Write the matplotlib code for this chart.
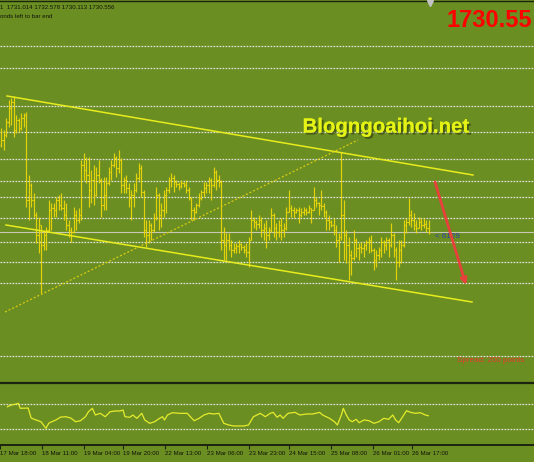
import matplotlib
matplotlib.use("Agg")
import matplotlib.pyplot as plt
import matplotlib.patheffects as pe

# ---------------- data ----------------
first_open = 1747.9
bar_high = [
    1751.3, 1750.9, 1753.3, 1756.9, 1757.3, 1757.7, 1753.9, 1753.3, 1754.3, 1754.3,
    1754.5, 1741.9, 1740.3, 1738.3, 1734.5, 1733.5, 1731.9, 1730.9, 1731.5, 1736.9,
    1736.3, 1736.3, 1737.5, 1737.9, 1738.3, 1736.9, 1736.3, 1732.9, 1731.5, 1735.5,
    1734.9, 1735.3, 1744.9, 1746.3, 1745.5, 1745.5, 1742.9, 1743.9, 1743.5, 1744.9,
    1741.3, 1741.5, 1741.5, 1743.5, 1744.9, 1746.3, 1745.7, 1746.9, 1745.3, 1741.5,
    1741.9, 1740.3, 1738.9, 1740.3, 1742.3, 1744.3, 1743.9, 1738.9, 1732.9, 1732.9,
    1732.3, 1734.3, 1739.5, 1738.3, 1736.3, 1738.9, 1739.5, 1741.5, 1742.3, 1741.9,
    1740.9, 1740.5, 1740.9, 1740.5, 1740.9, 1739.5, 1737.5, 1735.5, 1736.3, 1738.3,
    1738.9, 1740.5, 1740.5, 1741.5, 1741.3, 1743.5, 1742.9, 1741.9, 1740.9, 1731.5,
    1730.3, 1730.3, 1728.9, 1728.3, 1728.3, 1728.9, 1728.3, 1727.9, 1728.3, 1729.5,
    1734.9, 1733.5, 1732.9, 1733.9, 1733.5, 1732.3, 1732.9, 1731.5, 1735.3, 1734.3,
    1732.3, 1732.9, 1733.3, 1732.3, 1735.5, 1738.9, 1735.9, 1735.5, 1735.3, 1735.5,
    1735.3, 1735.5, 1735.3, 1735.9, 1735.3, 1739.5, 1737.5, 1736.5, 1738.9, 1736.3,
    1734.9, 1733.9, 1732.9, 1733.3, 1731.9, 1730.3, 1746.5, 1736.9, 1730.9, 1729.5,
    1726.9, 1730.9, 1729.3, 1728.3, 1728.5, 1728.3, 1728.9, 1729.5, 1729.9, 1727.3,
    1726.9, 1727.5, 1729.5, 1728.9, 1729.5, 1729.3, 1732.3, 1730.3, 1727.5, 1728.9,
    1728.9, 1732.9, 1733.3, 1737.3, 1734.9, 1734.3, 1732.9, 1733.5, 1733.3, 1733.3,
    1732.9, 1732.9]
bar_low = [
    1747.5, 1746.9, 1749.5, 1751.5, 1751.9, 1749.5, 1750.3, 1750.5, 1750.9, 1751.5,
    1735.5, 1732.9, 1735.5, 1733.5, 1728.3, 1726.3, 1718.3, 1726.9, 1726.9, 1730.5,
    1730.9, 1733.5, 1733.5, 1734.9, 1734.9, 1732.9, 1730.9, 1729.5, 1728.5, 1730.3,
    1730.9, 1732.3, 1732.9, 1740.9, 1740.3, 1735.5, 1736.3, 1735.9, 1737.7, 1740.3,
    1733.5, 1734.9, 1734.9, 1739.9, 1740.9, 1743.5, 1741.5, 1742.3, 1738.3, 1738.3,
    1738.3, 1735.5, 1732.9, 1735.5, 1738.5, 1740.9, 1737.5, 1729.5, 1727.5, 1728.3,
    1728.9, 1730.5, 1732.9, 1730.9, 1731.5, 1733.5, 1734.3, 1738.3, 1739.5, 1738.5,
    1739.5, 1738.9, 1739.3, 1739.5, 1738.3, 1736.9, 1732.9, 1732.9, 1734.3, 1735.5,
    1736.9, 1737.5, 1738.3, 1738.3, 1736.9, 1739.5, 1738.9, 1739.5, 1726.9, 1724.9,
    1724.9, 1726.9, 1725.5, 1726.3, 1726.3, 1726.3, 1726.9, 1726.3, 1725.5, 1723.5,
    1728.9, 1731.3, 1730.9, 1731.3, 1729.5, 1728.9, 1727.3, 1728.9, 1730.5, 1729.5,
    1728.9, 1729.5, 1728.9, 1729.5, 1730.9, 1734.5, 1733.5, 1733.3, 1734.3, 1732.3,
    1733.5, 1733.9, 1733.9, 1734.3, 1732.3, 1734.9, 1735.5, 1733.9, 1734.9, 1733.5,
    1730.9, 1730.9, 1731.5, 1729.9, 1727.5, 1724.5, 1728.9, 1724.9, 1724.3, 1720.9,
    1721.9, 1724.9, 1725.5, 1724.9, 1726.3, 1725.5, 1726.9, 1726.3, 1726.5, 1722.9,
    1723.5, 1724.9, 1725.5, 1726.3, 1726.9, 1725.5, 1727.5, 1725.5, 1720.9, 1723.5,
    1724.3, 1727.5, 1730.3, 1731.9, 1731.5, 1730.9, 1730.3, 1731.3, 1730.9, 1731.3,
    1730.5, 1730.1]
bar_close = [
    1748.9, 1749.9, 1752.5, 1755.3, 1756.5, 1750.9, 1752.9, 1751.3, 1753.3, 1753.9,
    1736.9, 1739.9, 1736.9, 1733.9, 1729.9, 1731.9, 1727.9, 1729.9, 1730.9, 1734.9,
    1735.3, 1734.9, 1736.9, 1735.9, 1735.3, 1733.9, 1731.9, 1730.9, 1730.5, 1733.9,
    1732.9, 1733.9, 1743.9, 1742.9, 1741.9, 1738.9, 1740.9, 1737.9, 1741.9, 1740.9,
    1735.9, 1737.9, 1740.3, 1742.5, 1743.9, 1745.3, 1743.3, 1744.9, 1739.9, 1740.9,
    1739.3, 1737.3, 1737.9, 1738.9, 1741.3, 1743.3, 1738.5, 1730.9, 1729.9, 1731.9,
    1730.9, 1733.3, 1737.9, 1733.9, 1734.9, 1737.9, 1738.9, 1740.9, 1741.3, 1740.5,
    1740.1, 1739.7, 1740.3, 1739.9, 1738.9, 1737.3, 1734.9, 1734.5, 1735.9, 1737.3,
    1738.5, 1739.3, 1739.9, 1740.9, 1739.9, 1742.5, 1740.9, 1740.5, 1728.9, 1727.9,
    1728.9, 1727.9, 1726.9, 1727.3, 1727.7, 1728.1, 1727.5, 1726.9, 1726.5, 1728.9,
    1732.9, 1732.5, 1732.1, 1732.9, 1730.9, 1731.3, 1729.9, 1730.9, 1733.9, 1731.3,
    1730.5, 1731.9, 1730.9, 1731.3, 1734.5, 1735.3, 1734.9, 1734.5, 1734.9, 1733.9,
    1734.5, 1734.9, 1734.5, 1735.3, 1734.9, 1736.9, 1736.3, 1735.9, 1735.7, 1734.5,
    1732.9, 1732.5, 1731.9, 1730.9, 1728.9, 1729.5, 1733.9, 1729.9, 1727.9, 1725.9,
    1725.3, 1728.9, 1727.3, 1727.5, 1727.3, 1727.9, 1728.5, 1728.9, 1726.9, 1724.9,
    1725.9, 1726.9, 1728.5, 1727.9, 1728.9, 1727.9, 1729.9, 1726.9, 1724.5, 1726.9,
    1727.9, 1731.9, 1732.5, 1733.9, 1732.9, 1731.9, 1731.3, 1732.5, 1731.9, 1732.1,
    1731.3, 1730.55]
bar_open = [first_open] + bar_close[:-1]
bar_idx = list(range(len(bar_close)))

bid_price = 1730.55
level_prices = [1767.76, 1763.24, 1755.76, 1750.44, 1745.1, 1740.64, 1737.56,
                1733.24, 1728.44, 1724.5, 1720.36, 1705.64]

upper_t, upper_p = [2.4, 188.8], [1757.7, 1741.9]
lower_t, lower_p = [2.0, 188.4], [1731.9, 1716.5]
dotted_t, dotted_p = [1.6, 142.8], [1714.5, 1748.9]
arrow_t, arrow_p = [173.6, 186.0], [1740.5, 1719.9]

rsi_t = [0, 1.6, 3.6, 4.4, 5.2, 8.4, 9.6, 11.6, 13.6, 15.6, 16.8, 19.6, 21.6, 23.6,
         25.6, 27.6, 29.6, 31.6, 32.8, 34.4, 35.6, 37.6, 39.6, 41.6, 43.6, 45.6,
         46.8, 47.6, 49.6, 50.8, 52.4, 54.4, 55.6, 57.6, 59.6, 61.6, 62.8, 63.6,
         64.8, 66.8, 69.6, 72.8, 75.6, 77.6, 79.6, 81.6, 83.6, 85.6, 87.6, 89.6,
         91.6, 95.6, 97.6, 99.6, 102.4, 104.4, 106.4, 107.6, 109.2, 110.4, 111.6,
         113.6, 116.4, 118.4, 121.2, 123.6, 126.4, 127.6, 130.4, 132.4, 133.6,
         135.2, 136.0, 137.2, 138.4, 139.6, 141.2, 142.4, 144.4, 146.4, 148.4,
         150.4, 152.4, 154.4, 156.0, 157.2, 158.4, 159.6, 161.6, 163.2, 165.2,
         167.2, 169.2, 170.4]
rsi_v = [66.1, 68.9, 70.5, 71.6, 63.5, 64.0, 47.8, 44.6, 41.8, 31.1, 39.7, 44.6, 49.4,
         49.9, 47.8, 41.8, 43.4, 49.9, 58.0, 63.5, 52.7, 55.4, 49.9, 58.0, 59.2, 59.2,
         60.8, 49.9, 49.0, 52.7, 47.3, 55.4, 44.6, 39.2, 41.8, 47.3, 49.9, 44.6,
         52.7, 56.4, 55.4, 55.4, 43.4, 47.3, 52.7, 55.4, 54.3, 55.4, 39.2, 36.5,
         34.9, 34.9, 36.5, 49.9, 55.4, 49.9, 55.4, 57.0, 49.0, 52.7, 47.3,
         55.4, 57.0, 52.7, 54.3, 54.3, 57.0, 52.7, 47.3, 41.8, 36.5,
         52.7, 63.5, 52.7, 44.6, 41.8, 45.7, 40.2, 44.6, 43.4, 39.2,
         41.8, 47.3, 45.7, 52.7, 44.6, 40.2, 47.3, 59.6, 57.0, 55.4,
         56.4, 52.7, 51.5]
rsi_levels = [70, 30]

tick_pos = [-3, 14, 31, 47, 64, 81, 98, 114, 131, 148, 164]
tick_labels = ["17 Mar 18:00", "18 Mar 11:00", "19 Mar 04:00", "19 Mar 20:00",
               "22 Mar 13:00", "23 Mar 06:00", "23 Mar 23:00", "24 Mar 15:00",
               "25 Mar 08:00", "26 Mar 01:00", "26 Mar 17:00"]

# ---------------- style ----------------
W, H = 534, 462
BG = "#6b8e23"
DARK = "#1c2410"
GRID = "#e2e2d8"
BAR = "#eed80a"
SMALL = "Liberation Sans"


def fy(px):
    return 1 - px / H


fig = plt.figure(figsize=(W / 100, H / 100), dpi=100, facecolor=BG)

ax = fig.add_axes([0, fy(382), 1, (382 - 1) / H], facecolor=BG)
ind = fig.add_axes([0, fy(445), 1, (445 - 383) / H], facecolor=BG)

xmin = -0.4
xmax = xmin + W / 2.5
for a in (ax, ind):
    a.set_xlim(xmin, xmax)
    for s in ("left", "right"):
        a.spines[s].set_visible(False)

ax.set_ylim(1700.5, 1776.7)
ax.spines["bottom"].set_visible(False)
ax.spines["top"].set_color(DARK)
ax.spines["top"].set_linewidth(1.0)
ax.set_xticks([])
ax.set_yticks([])

# level lines
for lv in level_prices:
    ax.axhline(lv, color=GRID, lw=0.9, ls=(0, (1.4, 1.0)), zorder=1)
ax.axhline(bid_price, color="#c8c8b4", lw=0.8, zorder=1)

# bars
ax.vlines(bar_idx, bar_low, bar_high, colors=BAR, lw=0.85, alpha=0.92, zorder=3)
ax.hlines(bar_open, [i - 0.45 for i in bar_idx], bar_idx, colors=BAR, lw=0.85, alpha=0.92, zorder=3)
ax.hlines(bar_close, bar_idx, [i + 0.45 for i in bar_idx], colors=BAR, lw=0.85, alpha=0.92, zorder=3)

# trendlines
ax.plot(upper_t, upper_p, color="#e8ec1c", lw=1.1, zorder=4)
ax.plot(lower_t, lower_p, color="#e8ec1c", lw=1.1, zorder=4)
ax.plot(dotted_t, dotted_p, color="#d8cc10", lw=0.9, ls=(0, (1.6, 1.6)), zorder=4)

# red arrow
ax.annotate("", xy=(arrow_t[1], arrow_p[1]), xytext=(arrow_t[0], arrow_p[0]),
            arrowprops=dict(arrowstyle="-|>", color="#e8403a", lw=2.0,
                            mutation_scale=9, shrinkA=0, shrinkB=0), zorder=6)

ax.text(arrow_t[0], 1729.25, "< 6129", color="#2840a8", fontsize=5.8,
        family=SMALL, va="baseline", ha="left", zorder=5)

# top marker triangle
ax.plot([430 / W], [0.994], marker="v", ms=4, color="#c4c4c4",
        transform=ax.transAxes, clip_on=False, zorder=7)

# indicator panel
ind.set_ylim(4.1, 104.5)
ind.set_yticks([])
ind.spines["top"].set_color(DARK)
ind.spines["top"].set_linewidth(1.6)
ind.spines["bottom"].set_color(DARK)
ind.spines["bottom"].set_linewidth(1.4)
for lv in rsi_levels:
    ind.axhline(lv, color=GRID, lw=0.9, ls=(0, (1.4, 1.0)), zorder=1)
ind.plot(rsi_t, rsi_v, color="#e6ec2c", lw=0.9, zorder=3)
ind.set_xticks(tick_pos)
ind.set_xticklabels(tick_labels, ha="left", fontsize=4.4, family=SMALL, color="#101408")
ind.tick_params(axis="x", direction="out", length=3, width=0.8, color=DARK, pad=1.5)

# texts
fig.text(0.0, fy(9), "1  1731.014 1732.578 1730.113 1730.556", fontsize=4.4,
         family=SMALL, color="#101408", va="baseline", ha="left")
fig.text(0.0, fy(17.5), "onds left to bar end", fontsize=4.4,
         family=SMALL, color="#101408", va="baseline", ha="left")
fig.text(447 / W, fy(27), "1730.55", fontsize=17, family=SMALL, weight="bold",
         color="#ff0000", va="baseline", ha="left")
fig.text(302.5 / W, fy(132.5), "Blogngoaihoi.net", fontsize=14.7, family=SMALL,
         weight="bold", color="#e4f214", va="baseline", ha="left",
         path_effects=[pe.withSimplePatchShadow(offset=(1.5, -1.5),
                                                shadow_rgbFace="#2e3a0c", alpha=0.6),
                       pe.Normal()])
fig.text(457 / W, fy(361.5), "Spread: 200 points", fontsize=5.8, family=SMALL,
         color="#e83a2e", va="baseline", ha="left")

fig.savefig("out.png", dpi=100, facecolor=BG)
